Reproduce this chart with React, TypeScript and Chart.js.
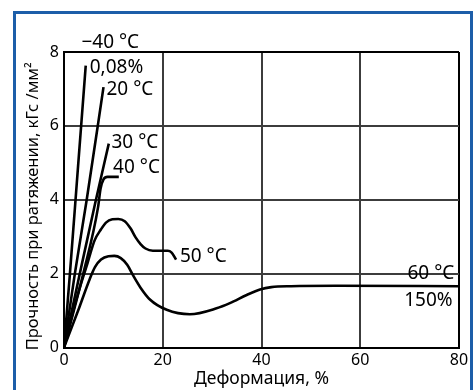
import React, { useEffect, useRef } from "react";
import { Chart, registerables } from "chart.js";

Chart.register(...registerables);

const FONT = '"Noto Sans", sans-serif';

// axis ticks
const xTickStep = 20;
const xMin = 0;
const xMax = 80;
const yTickStep = 2;
const yMin = 0;
const yMax = 8;

// series: strain (%) and tensile strength (kgf/mm²)
const seriesNames = ["−40 °C", "20 °C", "30 °C", "40 °C", "50 °C", "60 °C"];

const m40X = [0, 1.2, 2.9, 4.4];
const m40Y = [0, 2.0, 5.0, 7.63];

const p20X = [0, 2.2, 4.6, 8.0];
const p20Y = [0, 2.0, 4.0, 7.05];

const p30X = [0, 3.2, 6.3, 9.07];
const p30Y = [0, 2.0, 3.9, 5.52];

const p40X = [0, 3.9, 6.9, 7.4, 8.0, 8.8, 11.1];
const p40Y = [0, 2.0, 3.8, 4.3, 4.55, 4.62, 4.62];

const p50X = [0, 2.5, 4.8, 6.2, 7.5, 8.5, 9.8, 11, 12.3, 13.5, 14.5, 15.5, 16.5, 18, 21, 21.8, 22.7];
const p50Y = [0, 1.3, 2.3, 2.9, 3.2, 3.38, 3.47, 3.48, 3.42, 3.22, 2.98, 2.8, 2.68, 2.62, 2.62, 2.57, 2.38];

const p60X = [0, 3, 5.2, 6.3, 7.5, 9, 10.2, 11.5, 12.8, 14, 15.5, 17.4, 20.8, 25.5, 30.9, 33.6, 37, 39.7, 42, 46, 55, 80];
const p60Y = [0, 1.05, 1.85, 2.18, 2.38, 2.47, 2.48, 2.42, 2.24, 1.95, 1.62, 1.3, 1.02, 0.9, 1.06, 1.2, 1.42, 1.57, 1.635, 1.66, 1.67, 1.66];

const seriesX = [m40X, p20X, p30X, p40X, p50X, p60X];
const seriesY = [m40Y, p20Y, p30Y, p40Y, p50Y, p60Y];

// curve annotations (data coordinates)
const labelTexts = ["−40 °C", "0,08%", "20 °C", "30 °C", "40 °C", "50 °C", "60 °C", "150%"];
const labelX = [3.53, 5.21, 8.6, 9.61, 9.94, 23.47, 79.05, 78.7];
const labelY = [8.26, 7.59, 6.99, 5.56, 4.88, 2.47, 1.99, 1.26];
const labelAlign = ["left", "left", "left", "left", "left", "left", "right", "right"];

const xTitle = "Деформация, %";
const yTitle = "Прочность при ратяжении, кГс /мм²";

const labelPlugin = {
  id: "curveLabels",
  afterDatasetsDraw(chart: any) {
    const { ctx, scales, chartArea } = chart;
    const xs = scales.x;
    const ys = scales.y;
    ctx.save();
    ctx.font = `19px ${FONT}`;
    ctx.fillStyle = "#000";
    ctx.textBaseline = "middle";
    labelTexts.forEach((t, i) => {
      ctx.textAlign = labelAlign[i] as CanvasTextAlign;
      ctx.fillText(t, xs.getPixelForValue(labelX[i]), ys.getPixelForValue(labelY[i]));
    });
    // y-axis title, rotated
    ctx.translate(33.5, (chartArea.top + chartArea.bottom) / 2 + 6.5);
    ctx.rotate(-Math.PI / 2);
    ctx.font = `16.5px ${FONT}`;
    ctx.textAlign = "center";
    ctx.fillText(yTitle, 0, 0);
    ctx.restore();
  },
};

function StrengthChart() {
  const ref = useRef<HTMLCanvasElement | null>(null);
  useEffect(() => {
    if (!ref.current) return;
    const datasets = seriesNames.map((name, i) => ({
      label: name,
      data: seriesX[i].map((x, j) => ({ x, y: seriesY[i][j] })),
      borderColor: "#000",
      backgroundColor: "#000",
      borderWidth: 2.6,
      pointRadius: 0,
      fill: false,
      tension: 0.4,
      cubicInterpolationMode: "monotone" as const,
    }));
    const gridColor = (edge: number) => (c: any) =>
      c.tick && c.tick.value === edge ? "#000" : "#3c3c3c";
    const chart = new Chart(ref.current, {
      type: "line",
      data: { datasets },
      plugins: [labelPlugin],
      options: {
        animation: false,
        responsive: false,
        devicePixelRatio: 1,
        layout: { padding: { top: 52, right: 15, left: 0, bottom: 0 } },
        plugins: { legend: { display: false }, tooltip: { enabled: false } },
        scales: {
          x: {
            type: "linear",
            min: xMin,
            max: xMax,
            ticks: { stepSize: xTickStep, color: "#000", font: { family: FONT, size: 16 }, padding: 3 },
            grid: { color: gridColor(xMax), lineWidth: 2, drawTicks: false },
            border: { display: true, color: "#000", width: 2 },
            title: { display: true, text: xTitle, color: "#000", font: { family: FONT, size: 17.5 }, padding: { top: 0, bottom: 0 } },
            afterFit: (s: any) => { s.height = 42.5; },
          },
          y: {
            type: "linear",
            min: yMin,
            max: yMax,
            ticks: { stepSize: yTickStep, color: "#000", font: { family: FONT, size: 16 }, padding: 5 },
            grid: { color: gridColor(yMax), lineWidth: 2, drawTicks: false },
            border: { display: true, color: "#000", width: 2 },
            title: { display: false, text: yTitle },
            afterFit: (s: any) => { s.width = 64; },
          },
        },
      },
    });
    return () => chart.destroy();
  }, []);
  return <canvas ref={ref} width={474} height={390} style={{ display: "block", position: "absolute", left: 0, top: 0 }} />;
}

export default function App() {
  return (
    <div style={{ position: "absolute", left: 0, top: 0, width: 474, height: 390, overflow: "hidden", background: "#fff" }}>
      <div
        style={{
          position: "absolute",
          left: 13,
          top: 11,
          width: 454,
          height: 420,
          border: "3px solid #1d5ea9",
        }}
      />
      <StrengthChart />
    </div>
  );
}
